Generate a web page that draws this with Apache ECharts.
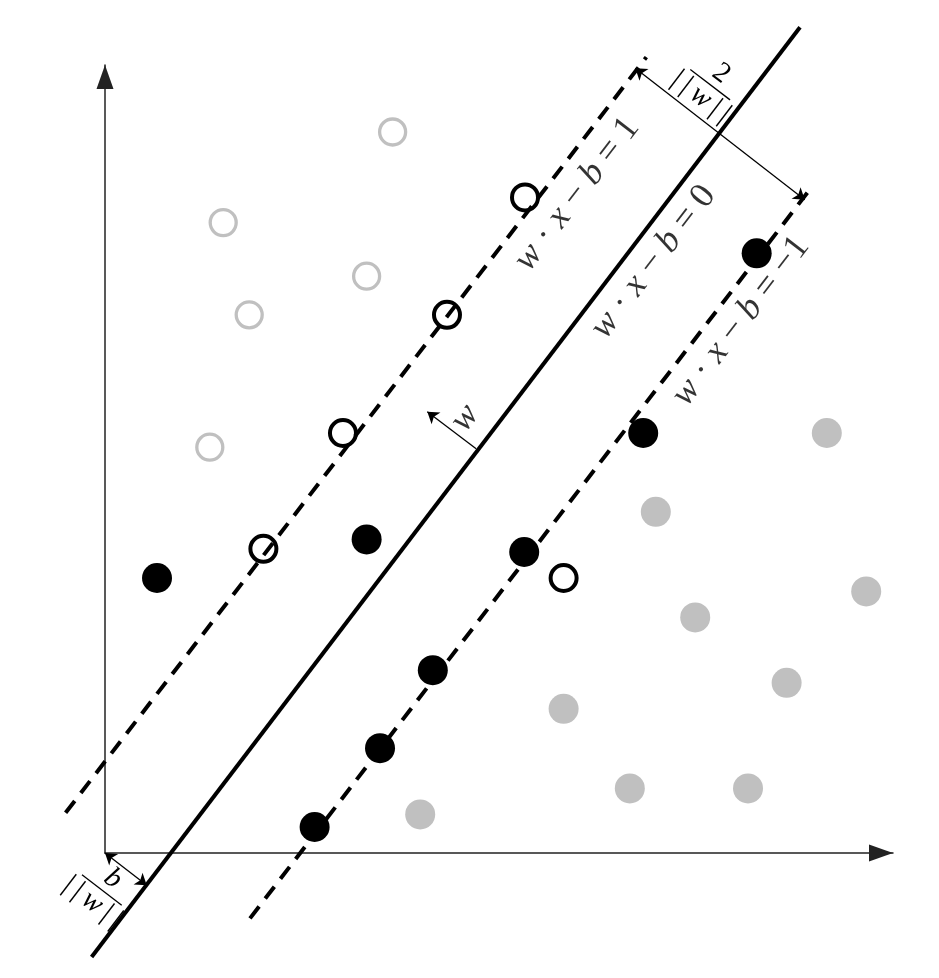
<!DOCTYPE html>
<html>
<head>
<meta charset="utf-8">
<script src="https://cdn.jsdelivr.net/npm/echarts@6/dist/echarts.min.js"></script>
<style>
  html, body { margin: 0; background: #fff; }
  #grafico { width: 939px; height: 978px; }
</style>
</head>
<body>
<div id="grafico"></div>
<script>
// puntos de las dos clases
const circulosGrises = [[3.65, 9.15], [1.50, 8.00], [3.32, 7.32], [1.83, 6.83], [1.33, 5.15]];
const circulosNegros = [[2.01, 3.86], [3.02, 5.33], [4.34, 6.83], [5.33, 8.32], [5.82, 3.49]];
const puntosNegros = [[0.66, 3.49], [3.32, 3.98], [2.66, 0.33], [3.49, 1.33], [4.16, 2.32],
                      [5.32, 3.82], [6.83, 5.33], [8.27, 7.61]];
const puntosGrises = [[9.16, 5.33], [6.99, 4.33], [9.66, 3.32], [7.49, 2.99], [8.65, 2.16],
                      [5.82, 1.83], [6.66, 0.82], [8.16, 0.82], [4.00, 0.49]];

// hiperplano y margenes (extremos)
const hiperplano = [[-0.17, -1.32], [8.82, 10.48]];
const margenPos = [[-0.50, 0.51], [6.87, 10.10]];
const margenNeg = [[1.84, -0.83], [8.99, 8.48]];

// flechas
const flechaMargen = [[6.73, 9.96], [8.88, 8.29]];
const flechaNormal = [[4.71, 5.13], [4.09, 5.60]];
const flechaOrigen = [[0, 0], [0.53, -0.41]];

// etiquetas
const posEtiquetas = [[5.99, 8.36], [6.96, 7.50], [8.07, 6.75]];
const ladoDerecho = ['1', '0', '\u22121'];
const posW = [[4.57, 5.52]];
const posFracciones = [[7.68, 9.75], [-0.04, -0.47]];
const numeradores = ['2', 'b'];

const angulo = 52.6;
const serif = '"Liberation Serif", "Times New Roman", serif';

const miGrafico = echarts.init(document.getElementById('grafico'));

const ejeComun = {
  type: 'value',
  min: 0,
  max: 10,
  axisLine: {
    show: true,
    onZero: false,
    symbol: ['none', 'triangle'],
    symbolSize: [17, 24],
    symbolOffset: [0, -12],
    lineStyle: { color: '#222', width: 1.5 }
  },
  axisTick: { show: false },
  axisLabel: { show: false },
  splitLine: { show: false }
};

const segmento = (datos, opts) => ({
  type: 'lines',
  coordinateSystem: 'cartesian2d',
  clip: false,
  silent: true,
  z: opts.z,
  symbol: opts.simbolos || ['none', 'none'],
  symbolSize: 11,
  lineStyle: { color: '#000', width: opts.ancho, type: opts.tipo || 'solid', cap: 'butt', opacity: 1, curveness: 0 },
  data: [{ coords: datos }]
});

const opciones = {
  animation: false,
  backgroundColor: '#fff',
  grid: { left: 105, right: 46, top: 65, bottom: 125 },
  xAxis: ejeComun,
  yAxis: ejeComun,
  series: [
    segmento(hiperplano, { z: 1, ancho: 4 }),
    segmento(margenPos, { z: 1, ancho: 4, tipo: [15, 10] }),
    segmento(margenNeg, { z: 1, ancho: 4, tipo: [15, 10] }),
    segmento(flechaMargen, { z: 2, ancho: 1.3, simbolos: ['arrow', 'arrow'] }),
    segmento(flechaNormal, { z: 2, ancho: 1.3, simbolos: ['none', 'arrow'] }),
    segmento(flechaOrigen, { z: 2, ancho: 1.3, simbolos: ['arrow', 'arrow'] }),
    {
      type: 'scatter', data: circulosGrises, symbolSize: 26, z: 3, silent: true,
      itemStyle: { color: 'rgba(0,0,0,0)', borderColor: '#c0c0c0', borderWidth: 3.3, opacity: 1 }
    },
    {
      type: 'scatter', data: circulosNegros, symbolSize: 26, z: 3, silent: true,
      itemStyle: { color: 'rgba(0,0,0,0)', borderColor: '#000', borderWidth: 4, opacity: 1 }
    },
    {
      type: 'scatter', data: puntosNegros, symbolSize: 30, z: 3, silent: true,
      itemStyle: { color: '#000', opacity: 1 }
    },
    {
      type: 'scatter', data: puntosGrises, symbolSize: 30, z: 3, silent: true,
      itemStyle: { color: '#c0c0c0', opacity: 1 }
    },
    {
      // ecuaciones de los hiperplanos
      type: 'scatter', data: posEtiquetas, symbolSize: 0, z: 4, silent: true,
      label: {
        show: true,
        position: 'inside',
        rotate: angulo,
        color: '#000',
        formatter: p => `{i|w}{r| · }{i|x}{r| \u2212 }{i|b}{r| = ${ladoDerecho[p.dataIndex]}}`,
        rich: {
          i: { fontFamily: serif, fontStyle: 'italic', fontSize: 36, color: '#000' },
          r: { fontFamily: serif, fontSize: 36, color: '#000' }
        }
      }
    },
    {
      type: 'scatter', data: posW, symbolSize: 0, z: 4, silent: true,
      label: {
        show: true, position: 'inside', rotate: angulo, color: '#000',
        formatter: 'w', fontFamily: serif, fontStyle: 'italic', fontSize: 36
      }
    },
    {
      // fracciones 2/||w|| y b/||w||
      type: 'custom',
      data: posFracciones,
      clip: false,
      silent: true,
      z: 4,
      renderItem: (params, api) => {
        const p = api.coord([api.value(0), api.value(1)]);
        const num = numeradores[params.dataIndex];
        return {
          type: 'group',
          x: p[0],
          y: p[1],
          rotation: -(90 - angulo) * Math.PI / 180,
          children: [
            {
              type: 'text',
              style: {
                text: num, x: 2, y: -1,
                align: 'center', verticalAlign: 'bottom',
                fontFamily: serif, fontSize: 29,
                fontStyle: num === 'b' ? 'italic' : 'normal',
                fill: '#000'
              }
            },
            {
              type: 'line',
              shape: { x1: -25, y1: 0, x2: 25, y2: 0 },
              style: { stroke: '#000', lineWidth: 1.3 }
            },
            {
              type: 'text',
              style: {
                text: '{r||\u2009|\u2009}{i|w}{r|\u2009|\u2009|}', x: 0, y: 1,
                align: 'center', verticalAlign: 'top',
                fill: '#000',
                rich: {
                  i: { fontFamily: serif, fontStyle: 'italic', fontSize: 29, fill: '#000' },
                  r: { fontFamily: serif, fontSize: 29, fill: '#000' }
                }
              }
            }
          ]
        };
      }
    }
  ]
};

miGrafico.setOption(opciones);
</script>
</body>
</html>
